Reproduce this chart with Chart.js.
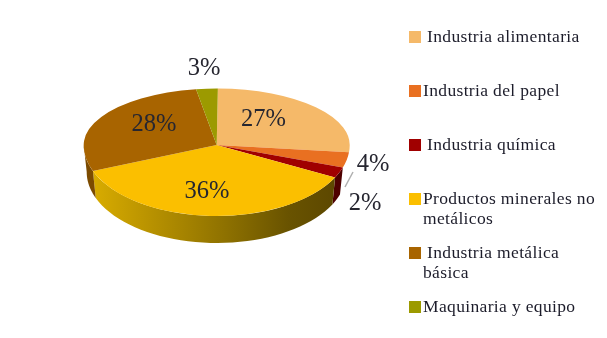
<!DOCTYPE html>
<html>
<head>
<meta charset="utf-8">
<style>
  html, body { margin: 0; background: #fff; }
  #wrap { position: relative; width: 607px; height: 338px; overflow: hidden; }
  #chart { position: absolute; left: 0; top: 0; }
  .sw { position: absolute; left: 409px; width: 12px; height: 12px; }
  .tx { position: absolute; font: 17.5px/20px "Liberation Serif", serif; letter-spacing: 0.35px; color: #1c1c2a; white-space: pre; }
</style>
<script src="https://cdn.jsdelivr.net/npm/chart.js@4"></script>
</head>
<body>
<div id="wrap"><canvas id="chart" width="607" height="338"></canvas></div>
<script>
const categories = ['Industria alimentaria', 'Industria del papel', 'Industria química', 'Productos minerales no metálicos', 'Industria metálica básica', 'Maquinaria y equipo'];
// they round to the printed labels
const shares = [26.5, 3.5, 2.4, 36.49, 28.49, 2.62];
const sliceColors = ['#F5B969', '#E97021', '#A00000', '#FBBF00', '#A86400', '#9C9A00'];

// look of the tilted pie
const tilt = { cx: 216.7, cy: 145, rx: 133, ryTop: 56.5, ryBottom: 71, depth: 27, inset: 3 };
const labelSpots = [[263.5, 120], [373, 165], [365, 204], [207, 192], [154, 125], [204, 69]];
const legendRows = [
    { y: 36.5, x: 427, lines: 'Industria alimentaria' },
    { y: 90.5, x: 423, lines: 'Industria del papel' },
    { y: 145, x: 427, lines: 'Industria química' },
    { y: 199, x: 423, lines: 'Productos minerales no\nmetálicos' },
    { y: 253, x: 427, lines: 'Industria metálica\n<span style="margin-left:-4px">básica</span>' },
    { y: 307, x: 423, lines: 'Maquinaria y equipo' },
];

function edgePoint(a, bottom) {
    const s = Math.sin(a);
    const ry = s > 0 ? tilt.ryBottom : tilt.ryTop;
    const rx = bottom ? tilt.rx - tilt.inset : tilt.rx;
    return [tilt.cx + rx * Math.cos(a), tilt.cy + ry * s + (bottom ? tilt.depth : 0)];
}

function drawWall(ctx, arc, fill) {
    const a0 = Math.max(arc.startAngle, 0);
    const a1 = Math.min(arc.endAngle, Math.PI);
    if (a1 <= a0) return;
    ctx.beginPath();
    for (let i = 0; i <= 40; i++) {
        const p = edgePoint(a0 + (a1 - a0) * i / 40, false);
        ctx.lineTo(p[0], p[1]);
    }
    for (let i = 40; i >= 0; i--) {
        const p = edgePoint(a0 + (a1 - a0) * i / 40, true);
        ctx.lineTo(p[0], p[1]);
    }
    ctx.closePath();
    ctx.fillStyle = fill;
    ctx.fill();
}

const tiltPlugin = {
    id: 'tilt',
    beforeDatasetDraw(chart, args) {
        const ctx = chart.ctx;
        const meta = args.meta;
        const first = meta.data[0];
        const R = first.outerRadius;

        const gold = ctx.createLinearGradient(88, 0, 338, 0);
        gold.addColorStop(0, '#DBAE00');
        gold.addColorStop(0.25, '#B89200');
        gold.addColorStop(0.55, '#8E7100');
        gold.addColorStop(0.8, '#695300');
        gold.addColorStop(1, '#5C4700');
        // the two right hand slices show no side in the original
        const walls = [null, null, '#4E0000', gold, '#7C4B00', null];
        meta.data.forEach((arc, i) => { if (walls[i]) drawWall(ctx, arc, walls[i]); });

        // top and bottom halves get their own squash, the back of the pie looks shorter
        [[0, tilt.cy, tilt.ryTop], [tilt.cy, 338 - tilt.cy, tilt.ryBottom]].forEach(([y, h, ry]) => {
            ctx.save();
            ctx.beginPath();
            ctx.rect(0, y, 607, h);
            ctx.clip();
            ctx.translate(tilt.cx, tilt.cy);
            ctx.scale(tilt.rx / R, ry / R);
            ctx.translate(-first.x, -first.y);
            meta.controller.draw();
            ctx.restore();
        });
        return false;
    },
    afterDraw(chart) {
        const ctx = chart.ctx;
        ctx.save();
        ctx.strokeStyle = '#B0B0B0';
        ctx.lineWidth = 1.5;
        ctx.beginPath();
        ctx.moveTo(345, 187);
        ctx.lineTo(353, 172);
        ctx.stroke();
        ctx.font = '24.5px "Liberation Serif", serif';
        ctx.fillStyle = '#262630';
        ctx.textAlign = 'center';
        ctx.textBaseline = 'middle';
        shares.forEach((v, i) => {
            ctx.fillText(Math.round(v) + '%', labelSpots[i][0], labelSpots[i][1]);
        });
        ctx.restore();
    },
};

new Chart(document.getElementById('chart'), {
    type: 'pie',
    data: {
        labels: categories,
        datasets: [{ data: shares, backgroundColor: sliceColors, borderWidth: 0 }],
    },
    options: {
        responsive: false,
        animation: false,
        rotation: 0.5,
        plugins: { legend: { display: false }, tooltip: { enabled: false } },
    },
    plugins: [tiltPlugin],
});

// legend rows sit unevenly in the original so it is laid out by hand
const wrap = document.getElementById('wrap');
legendRows.forEach((row, i) => {
    const sw = document.createElement('div');
    sw.className = 'sw';
    sw.style.top = (row.y - 6) + 'px';
    sw.style.background = sliceColors[i];
    wrap.appendChild(sw);
    const tx = document.createElement('div');
    tx.className = 'tx';
    tx.style.left = row.x + 'px';
    tx.style.top = (row.y - 11) + 'px';
    tx.innerHTML = row.lines;
    wrap.appendChild(tx);
});
</script>
</body>
</html>
